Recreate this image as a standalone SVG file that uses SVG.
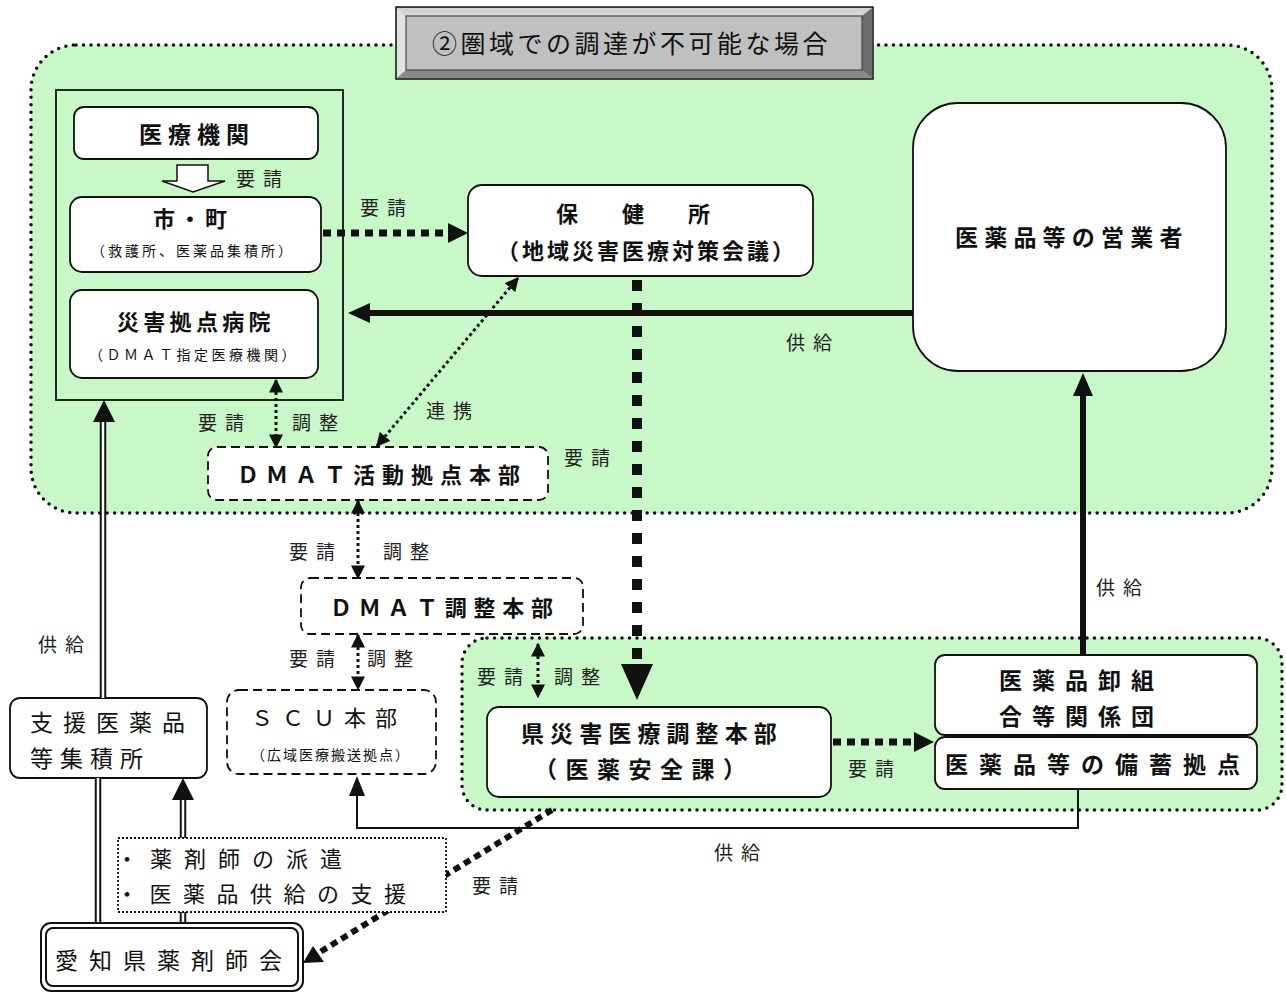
<svg xmlns="http://www.w3.org/2000/svg" width="1286" height="1001" viewBox="0 0 1286 1001">
<defs>
<style>
text{font-family:"Noto Sans CJK JP","Noto Sans",sans-serif;fill:#111}
.b{font-weight:bold}
.box{fill:#fff;stroke:#111;stroke-width:1.8}
.dash{fill:#fff;stroke:#111;stroke-width:1.8;stroke-dasharray:9 5}
.region{fill:#c8f8c8;stroke:#111;stroke-width:3.5;stroke-linecap:round;stroke-dasharray:0 7.5}
.lbl{font-size:19px;letter-spacing:8px;fill:#222}
.thin{fill:none;stroke:#111;stroke-width:3;stroke-dasharray:3 3}
.sq{fill:none;stroke:#111;stroke-width:7;stroke-dasharray:8 6}
.big{fill:none;stroke:#111;stroke-width:10;stroke-dasharray:11 12}
</style>
<marker id="ah" viewBox="0 0 10 10" refX="9" refY="5" markerWidth="14" markerHeight="14" markerUnits="userSpaceOnUse" orient="auto-start-reverse"><path d="M0,0 L10,5 L0,10 Z" fill="#111"/></marker>
</defs>
<rect width="1286" height="1001" fill="#fff"/>

<!-- regions -->
<rect class="region" x="31" y="45" width="1241" height="468" rx="45"/>
<rect class="region" x="462" y="638" width="820" height="172" rx="25"/>

<!-- title -->
<g id="title">
<rect x="396" y="7" width="477" height="72" fill="#bfbfbf" stroke="#111" stroke-width="1.5"/>
<polygon points="397,8 872,8 862,16 406,16" fill="#d4d4d4"/>
<polygon points="397,8 406,16 406,70 397,78" fill="#e2e2e2"/>
<polygon points="872,8 872,78 862,70 862,16" fill="#6e6e6e"/>
<polygon points="397,78 872,78 862,70 406,70" fill="#8a8a8a"/>
<rect x="406" y="16" width="456" height="54" fill="#c0c0c0" stroke="#333" stroke-width="1"/>
<text x="432" y="53" font-size="25" letter-spacing="3.5">②圏域での調達が不可能な場合</text>
</g>

<!-- left group box -->
<g id="leftgroup">
<rect x="56" y="90" width="287" height="310" fill="#c8f8c8" stroke="#111" stroke-width="1.8"/>
</g>
<g id="iryokikan">
<rect class="box" x="74" y="107" width="244" height="52" rx="10"/>
<text class="b" x="139" y="143" font-size="23" letter-spacing="6">医療機関</text>
</g>
<g id="shicho">
<rect class="box" x="70" y="197" width="251" height="75" rx="12"/>
<text class="b" x="153" y="227" font-size="22" letter-spacing="4">市・町</text>
<text x="91" y="256" font-size="14" letter-spacing="3">（救護所、医薬品集積所）</text>
</g>
<g id="saigai">
<rect class="box" x="70" y="290" width="248" height="88" rx="12"/>
<text class="b" x="117" y="330" font-size="22" letter-spacing="4.3">災害拠点病院</text>
<text x="89" y="360" font-size="14" letter-spacing="3.5">（ＤＭＡＴ指定医療機関）</text>
</g>
<g id="hokenjo">
<rect class="box" x="468" y="185" width="345" height="91" rx="14"/>
<text class="b" x="556" y="222" font-size="22">保　　健　　所</text>
<text class="b" x="497" y="259" font-size="22" letter-spacing="3">（地域災害医療対策会議）</text>
</g>
<g id="eigyo">
<rect class="box" x="913" y="103" width="313" height="268" rx="45"/>
<text class="b" x="955" y="246" font-size="23" letter-spacing="6.2">医薬品等の営業者</text>
</g>
<g id="dmat1">
<rect class="dash" x="208" y="447" width="340" height="53" rx="9"/>
<text class="b" x="237" y="483" font-size="22" letter-spacing="7">ＤＭＡＴ活動拠点本部</text>
</g>
<g id="dmat2">
<rect class="dash" x="301" y="578" width="282" height="56" rx="9"/>
<text class="b" x="330" y="616" font-size="22" letter-spacing="6.7">ＤＭＡＴ調整本部</text>
</g>
<g id="scu">
<rect class="dash" x="227" y="690" width="209" height="84" rx="12"/>
<text x="251" y="726" font-size="22" letter-spacing="9">ＳＣＵ本部</text>
<text x="251" y="760" font-size="14" letter-spacing="2">（広域医療搬送拠点）</text>
</g>
<g id="ken">
<rect class="box" x="487" y="707" width="344" height="90" rx="12"/>
<text class="b" x="521" y="742" font-size="23" letter-spacing="6.1">県災害医療調整本部</text>
<text class="b" x="534" y="778" font-size="23" letter-spacing="8.5">（医薬安全課）</text>
</g>
<g id="oroshi">
<rect class="box" x="935" y="655" width="322" height="80" rx="10"/>
<text class="b" x="999" y="689" font-size="23" letter-spacing="10">医薬品卸組</text>
<text class="b" x="999" y="725" font-size="23" letter-spacing="10">合等関係団</text>
</g>
<g id="bichiku">
<rect class="box" x="935" y="737" width="322" height="52" rx="10"/>
<text class="b" x="945" y="773" font-size="23" letter-spacing="11">医薬品等の備蓄拠点</text>
</g>
<g id="shien">
<rect class="box" x="10" y="698" width="197" height="80" rx="10"/>
<text x="30" y="731" font-size="23" letter-spacing="10">支援医薬品</text>
<text x="30" y="767" font-size="23" letter-spacing="7">等集積所</text>
</g>

<!-- connectors -->
<g id="connectors">
<polygon points="177,165 208,165 208,181 225,181 193,192 162,181 177,181" fill="#fff" stroke="#111" stroke-width="1.5"/>
<line class="sq" x1="323" y1="233" x2="452" y2="233"/>
<polygon points="448,223 468,233 448,243" fill="#111"/>
<line x1="913" y1="313" x2="366" y2="313" stroke="#111" stroke-width="6"/>
<polygon points="370,303 348,313 370,323" fill="#111"/>
<line class="big" x1="637" y1="280" x2="637" y2="664"/>
<polygon points="621,664 653,664 637,700" fill="#111"/>
<line class="thin" x1="276" y1="380" x2="276" y2="447" marker-start="url(#ah)" marker-end="url(#ah)"/>
<line class="thin" x1="377" y1="446" x2="518" y2="278" marker-start="url(#ah)" marker-end="url(#ah)"/>
<line class="thin" x1="358" y1="501" x2="358" y2="578" marker-start="url(#ah)" marker-end="url(#ah)"/>
<line class="thin" x1="358" y1="635" x2="358" y2="689" marker-start="url(#ah)" marker-end="url(#ah)"/>
<line class="thin" x1="538" y1="644" x2="538" y2="697" marker-start="url(#ah)" marker-end="url(#ah)"/>
<line class="sq" x1="833" y1="742" x2="918" y2="742"/>
<polygon points="914,732 934,742 914,752" fill="#111"/>
<line x1="1083" y1="655" x2="1083" y2="392" stroke="#111" stroke-width="6"/>
<polygon points="1073,396 1083,373 1093,396" fill="#111"/>
<polyline points="1078,789 1078,828 357,828 357,792" fill="none" stroke="#111" stroke-width="2"/>
<polygon points="349,796 357,776 365,796" fill="#111"/>
<line x1="552" y1="810" x2="320" y2="952" stroke="#111" stroke-width="6" stroke-dasharray="7 5"/>
<polygon points="313,946 303,963 324,962" fill="#111"/>
<line x1="98" y1="923" x2="98" y2="778" stroke="#111" stroke-width="6.5"/>
<line x1="98" y1="923" x2="98" y2="778" stroke="#fff" stroke-width="2.5"/>
<line x1="103" y1="698" x2="103" y2="420" stroke="#111" stroke-width="6.5"/>
<line x1="103" y1="698" x2="103" y2="420" stroke="#fff" stroke-width="2.5"/>
<polygon points="93,422 104,400 115,422" fill="#111"/>
<line x1="183" y1="923" x2="183" y2="798" stroke="#111" stroke-width="6.5"/>
<line x1="183" y1="923" x2="183" y2="798" stroke="#fff" stroke-width="2.5"/>
<polygon points="172,800 183,778 194,800" fill="#111"/>
</g>

<g id="note">
<rect x="118" y="838" width="328" height="74" fill="#fff" stroke="#111" stroke-width="1.8" stroke-dasharray="2 2"/>
<text x="116" y="867" font-size="22" letter-spacing="12">・薬剤師の派遣</text>
<text x="116" y="902" font-size="22" letter-spacing="11.5">・医薬品供給の支援</text>
</g>
<g id="yakuzaishikai">
<rect x="41" y="923" width="262" height="68" rx="10" fill="#fff" stroke="#111" stroke-width="2"/>
<rect x="46" y="928" width="252" height="58" rx="7" fill="none" stroke="#111" stroke-width="2"/>
<text x="55" y="969" font-size="23" letter-spacing="11">愛知県薬剤師会</text>
</g>

<g id="labels">
<text class="lbl" x="236" y="186">要請</text>
<text class="lbl" x="360" y="215">要請</text>
<text class="lbl" x="786" y="350">供給</text>
<text class="lbl" x="198" y="430">要請</text>
<text class="lbl" x="292" y="430">調整</text>
<text class="lbl" x="426" y="418">連携</text>
<text class="lbl" x="564" y="465">要請</text>
<text class="lbl" x="289" y="559">要請</text>
<text class="lbl" x="383" y="559">調整</text>
<text class="lbl" x="289" y="666">要請</text>
<text class="lbl" x="367" y="666">調整</text>
<text class="lbl" x="477" y="684">要請</text>
<text class="lbl" x="554" y="684">調整</text>
<text class="lbl" x="848" y="776">要請</text>
<text class="lbl" x="1096" y="595">供給</text>
<text class="lbl" x="714" y="860">供給</text>
<text class="lbl" x="472" y="893">要請</text>
<text class="lbl" x="38" y="652">供給</text>
</g>
</svg>
